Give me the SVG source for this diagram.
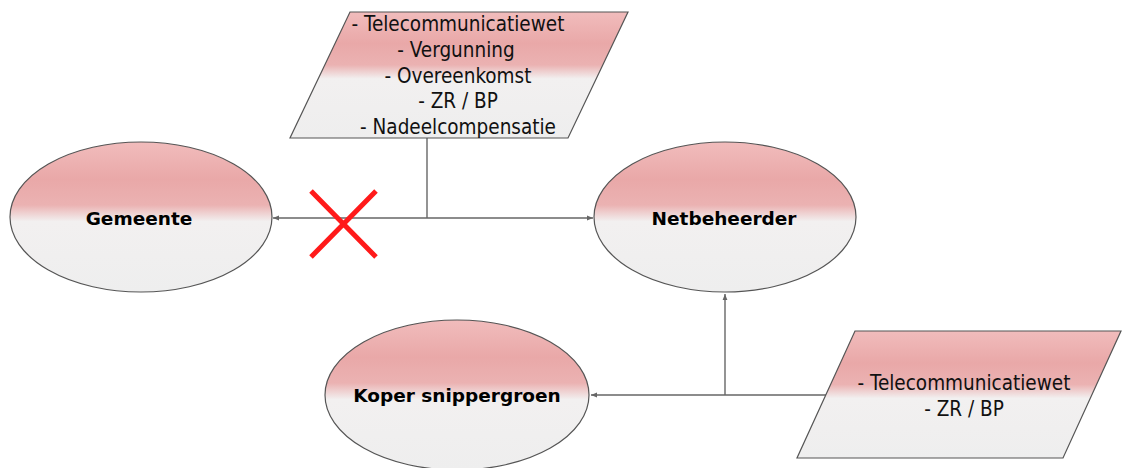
<svg xmlns="http://www.w3.org/2000/svg" width="1124" height="468" viewBox="0 0 1124 468">
<style>
.shape{stroke:#555;stroke-width:1.2;fill:url(#g)}
.conn{stroke:#666;stroke-width:1.4;fill:none}
.lbl{font-family:"DejaVu Sans",Verdana,sans-serif;font-weight:bold;font-size:18.5px;fill:#000;text-anchor:middle;dominant-baseline:central}
.txt{font-family:"DejaVu Sans Condensed","DejaVu Sans",sans-serif;font-size:20.5px;fill:#111;text-anchor:middle;dominant-baseline:central}
</style>
<defs>
<linearGradient id="g" x1="0" y1="0" x2="0" y2="1">
<stop offset="0" stop-color="#f1bcbc"/>
<stop offset="0.25" stop-color="#e9a8a8"/>
<stop offset="0.42" stop-color="#ebb2b2"/>
<stop offset="0.53" stop-color="#f2f0f0"/>
<stop offset="1" stop-color="#eeeeee"/>
</linearGradient>
<marker id="arr" viewBox="0 0 10 10" refX="10" refY="5" markerWidth="6" markerHeight="6" orient="auto-start-reverse" markerUnits="userSpaceOnUse">
<path d="M0,1 L10,5 L0,9 z" fill="#666"/>
</marker>
</defs>
<g id="connectors">
<path class="conn" d="M427,138 V218"/>
<path class="conn" d="M427,218 H273" marker-end="url(#arr)"/>
<path class="conn" d="M427,218 H593" marker-end="url(#arr)"/>
<path class="conn" d="M826,395 H591" marker-end="url(#arr)"/>
<path class="conn" d="M725,395 V294" marker-end="url(#arr)"/>
</g>
<g id="cross">
<path d="M311,191 L376,257 M376,191 L311,257" stroke="#ff1a1a" stroke-width="5" fill="none"/>
</g>
<g id="gemeente">
<ellipse class="shape" cx="141" cy="217" rx="131" ry="75"/>
<text class="lbl" x="139" y="218">Gemeente</text>
</g>
<g id="netbeheerder">
<ellipse class="shape" cx="725" cy="217" rx="131" ry="75"/>
<text class="lbl" x="724" y="218">Netbeheerder</text>
</g>
<g id="koper">
<ellipse class="shape" cx="457" cy="395" rx="132" ry="75"/>
<text class="lbl" x="457" y="395">Koper snippergroen</text>
</g>
<g id="regels-top">
<path class="shape" d="M350,12 H628 L568,138 H290 Z"/>
<text class="txt" x="458" y="24">- Telecommunicatiewet</text>
<text class="txt" x="456" y="50">- Vergunning</text>
<text class="txt" x="458" y="76">- Overeenkomst</text>
<text class="txt" x="458" y="101">- ZR / BP</text>
<text class="txt" x="458" y="127">- Nadeelcompensatie</text>
</g>
<g id="regels-bottom">
<path class="shape" d="M855,331 H1121 L1063,458 H797 Z"/>
<text class="txt" x="964" y="383">- Telecommunicatiewet</text>
<text class="txt" x="964" y="409">- ZR / BP</text>
</g>
</svg>
